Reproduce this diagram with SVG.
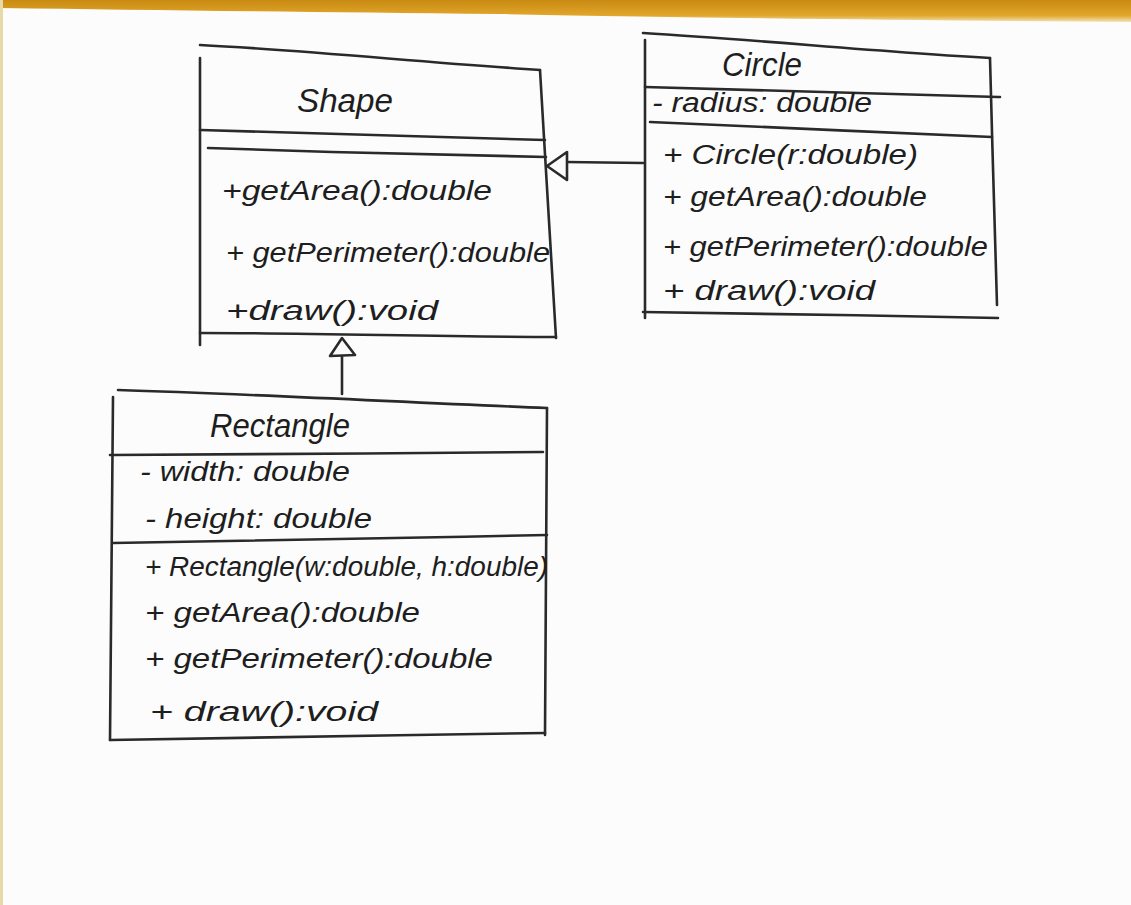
<svg xmlns="http://www.w3.org/2000/svg" width="1131" height="905" viewBox="0 0 1131 905">
<defs>
<linearGradient id="wood" x1="0" y1="0" x2="0" y2="1">
<stop offset="0" stop-color="#c98a12"/>
<stop offset="0.7" stop-color="#e0a62a"/>
<stop offset="1" stop-color="#f3e2b8"/>
</linearGradient>
<style>
.ln{fill:none;stroke:#2a2a2a;stroke-width:2.6;stroke-linecap:round;stroke-linejoin:round}
.tx{font-family:"Liberation Sans","DejaVu Sans",sans-serif;font-size:27px;fill:#1e1e1e;font-style:italic}
.tt{font-family:"Liberation Sans","DejaVu Sans",sans-serif;font-size:34px;fill:#1e1e1e;font-style:italic}
.hd{fill:#fbfbfb;stroke:#2a2a2a;stroke-width:2.6;stroke-linejoin:round}
</style>
</defs>
<rect x="0" y="0" width="1131" height="905" fill="#fcfcfc"/>
<path d="M0,0 H1131 V22 C900,20 700,18 500,14 C300,12 150,10 0,8 Z" fill="url(#wood)"/>
<rect x="0" y="0" width="3" height="905" fill="#e8d9a8"/>

<g id="connectors">
<path class="ln" d="M643,163 L566,162"/>
<path class="hd" d="M547,166 L567,152 L567,180 Z"/>
<path class="ln" d="M342,394 L342,356"/>
<path class="hd" d="M342,338 L330,356 L355,355 Z"/>
</g>

<g id="shape">
<path class="ln" d="M200,45 C300,50 420,62 540,70"/>
<path class="ln" d="M200,58 L200,345"/>
<path class="ln" d="M540,70 C545,160 552,260 556,338"/>
<path class="ln" d="M200,130 C320,133 440,137 545,140"/>
<path class="ln" d="M208,148 C320,152 440,155 546,157"/>
<path class="ln" d="M200,333 C320,333 440,337 556,337"/>
<text class="tt" x="297" y="112" textLength="96" lengthAdjust="spacingAndGlyphs">Shape</text>
<text class="tx" x="222" y="200" textLength="270" lengthAdjust="spacingAndGlyphs">+getArea():double</text>
<text class="tx" x="226" y="262" textLength="324" lengthAdjust="spacingAndGlyphs">+ getPerimeter():double</text>
<text class="tx" x="226" y="320" textLength="212" lengthAdjust="spacingAndGlyphs">+draw():void</text>
</g>

<g id="circle">
<path class="ln" d="M643,33 C760,40 880,52 990,58"/>
<path class="ln" d="M645,40 L645,318"/>
<path class="ln" d="M990,58 C992,140 995,230 997,305"/>
<path class="ln" d="M645,87 C760,90 880,94 1000,97"/>
<path class="ln" d="M650,122 C760,127 880,132 992,137"/>
<path class="ln" d="M643,312 C760,313 880,316 998,318"/>
<text class="tt" x="722" y="76" textLength="80" lengthAdjust="spacingAndGlyphs">Circle</text>
<text class="tx" x="652" y="112" textLength="220" lengthAdjust="spacingAndGlyphs">- radius: double</text>
<text class="tx" x="663" y="164" textLength="255" lengthAdjust="spacingAndGlyphs">+ Circle(r:double)</text>
<text class="tx" x="663" y="206" textLength="264" lengthAdjust="spacingAndGlyphs">+ getArea():double</text>
<text class="tx" x="663" y="256" textLength="325" lengthAdjust="spacingAndGlyphs">+ getPerimeter():double</text>
<text class="tx" x="663" y="300" textLength="212" lengthAdjust="spacingAndGlyphs">+ draw():void</text>
</g>

<g id="rectangle">
<path class="ln" d="M118,390 C250,394 400,402 547,408"/>
<path class="ln" d="M113,397 C112,520 111,640 110,740"/>
<path class="ln" d="M547,408 C547,520 546,630 545,735"/>
<path class="ln" d="M110,455 C250,455 400,453 543,452"/>
<path class="ln" d="M113,543 C250,541 400,538 547,535"/>
<path class="ln" d="M110,740 C250,738 400,735 545,733"/>
<text class="tt" x="210" y="437" textLength="140" lengthAdjust="spacingAndGlyphs">Rectangle</text>
<text class="tx" x="140" y="481" textLength="210" lengthAdjust="spacingAndGlyphs">- width: double</text>
<text class="tx" x="145" y="528" textLength="227" lengthAdjust="spacingAndGlyphs">- height: double</text>
<text class="tx" x="145" y="576" textLength="403" lengthAdjust="spacingAndGlyphs">+ Rectangle(w:double, h:double)</text>
<text class="tx" x="145" y="622" textLength="275" lengthAdjust="spacingAndGlyphs">+ getArea():double</text>
<text class="tx" x="145" y="668" textLength="348" lengthAdjust="spacingAndGlyphs">+ getPerimeter():double</text>
<text class="tx" x="150" y="721" textLength="228" lengthAdjust="spacingAndGlyphs">+ draw():void</text>
</g>
</svg>
